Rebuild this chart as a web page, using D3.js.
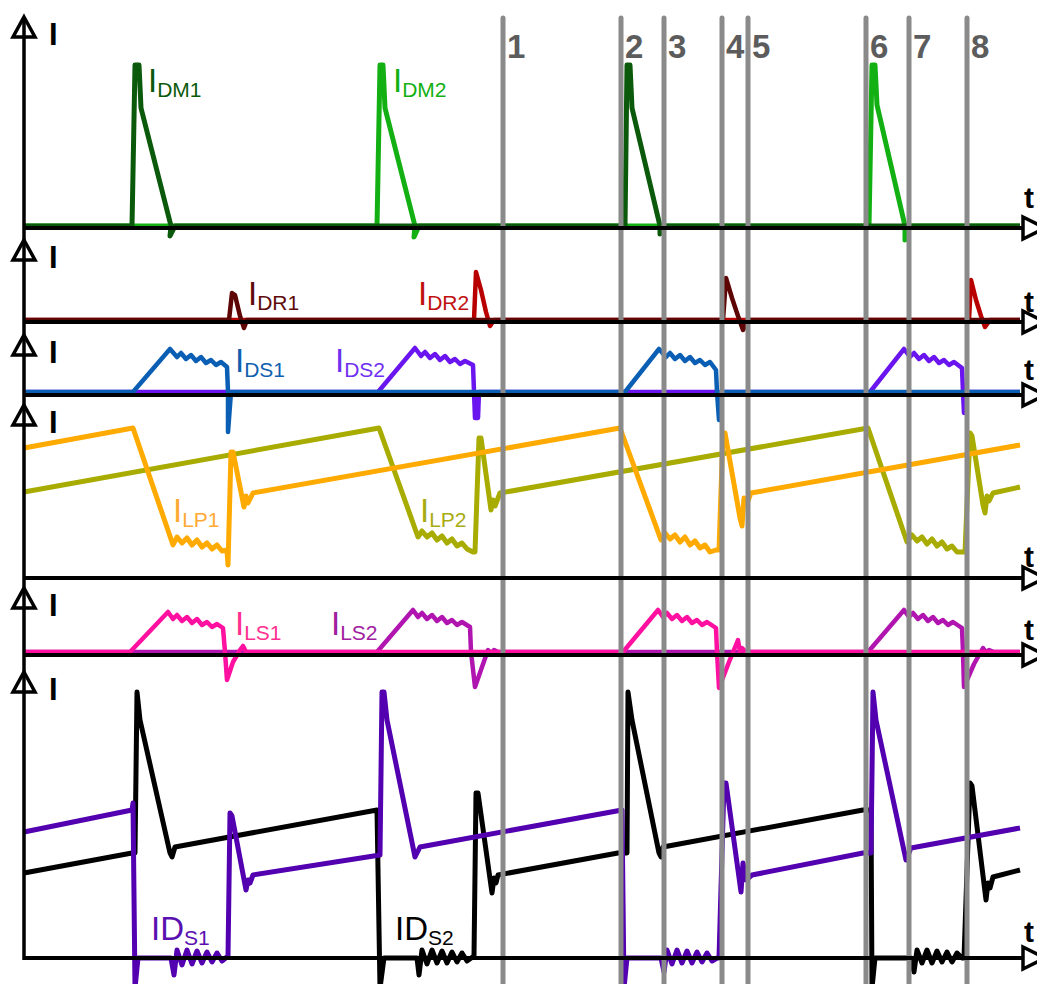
<!DOCTYPE html>
<html>
<head>
<meta charset="utf-8">
<script src="https://cdn.jsdelivr.net/npm/d3@7"></script>
<style>
  html, body { margin: 0; padding: 0; background: #fff; }
  svg { display: block; }
</style>
</head>
<body>
<div id="chart"></div>
<script>
// time in ns from the left axis, currents in arbitrary units (one per panel)
const timeDomain = [0, 996];
const eventTimes = [479, 597, 640, 698, 724, 842, 885, 943];
const eventLabels = ["1", "2", "3", "4", "5", "6", "7", "8"];

// panel 1 - main diodes
const iDM1 = [[0,0],[108,0],[111,161],[115,161],[117,118],[147,0],[146,-10],[151,0],[601,0],[603,161],[606,161],[608,118],[636,0],[636,-8],[640,0],[996,0]];
const iDM2 = [[0,0],[353,0],[356,161],[359,161],[361,118],[391,0],[390,-11],[395,0],[845,0],[848,161],[851,161],[853,121],[881,0],[881,-14],[885,0],[996,0]];

// panel 2 - reset diodes
const iDR1 = [[0,0],[205,0],[208,27],[211,25],[216,4],[220,-8],[223,0],[699,0],[702,42],[708,22],[714,4],[719,-10],[724,0],[996,0]];
const iDR2 = [[0,0],[450,0],[452,48],[457,30],[462,8],[466,-6],[470,0],[945,0],[947,40],[952,20],[957,4],[961,-7],[966,0],[996,0]];

// panel 3 - snubber diodes
const iDS1 = [[0,0],[109,0],[146,43],[153,35],[157,39],[162,33],[167,37],[172,31],[177,35],[182,29],[187,32],[192,27],[197,30],[203,25],[204,0],[204,-40],[207,0],[601,0],[635,43],[642,35],[646,39],[651,33],[656,37],[661,31],[666,35],[671,29],[676,32],[681,27],[686,30],[692,22],[693,0],[695,-28],[697,0],[996,0]];
const iDS2 = [[0,0],[354,0],[391,44],[397,36],[401,40],[406,34],[411,38],[416,32],[421,36],[426,30],[431,33],[436,28],[441,31],[449,27],[451,-26],[454,-26],[455,0],[846,0],[880,43],[886,35],[890,39],[895,33],[900,37],[905,31],[910,35],[915,29],[920,32],[925,27],[930,30],[938,24],[939,0],[940,-21],[942,0],[996,0]];

// panel 4 - primary inductors
const iLP1 = [[0,130],[109,150],[149,33],[153,41],[158,35],[163,40],[168,33],[173,38],[178,31],[183,35],[188,29],[193,33],[198,27],[203,28],[204,13],[207,126],[209,126],[220,71],[222,82],[224,75],[229,85],[596,150],[637,38],[641,45],[646,39],[651,43],[656,36],[661,41],[666,33],[671,37],[676,30],[681,33],[686,26],[692,28],[695,28],[699,145],[701,145],[716,60],[718,52],[720,80],[723,75],[727,85],[996,133]];
const iLP2 = [[0,86],[355,150],[394,41],[398,47],[403,41],[408,45],[413,38],[418,42],[423,35],[428,39],[433,32],[438,35],[443,29],[449,26],[451,26],[455,140],[457,140],[467,68],[469,78],[471,72],[476,85],[844,150],[883,36],[888,43],[893,37],[898,41],[903,34],[908,39],[913,32],[918,36],[923,29],[928,32],[933,26],[938,26],[941,26],[946,145],[948,142],[959,73],[961,65],[963,82],[965,77],[969,85],[996,91]];

// panel 5 - snubber inductors
const iLS1 = [[0,0],[106,0],[144,40],[149,33],[153,37],[158,31],[163,35],[168,29],[173,33],[178,27],[183,30],[188,25],[193,28],[199,24],[201,0],[203,-28],[209,-10],[216,2],[219,6],[222,0],[599,0],[634,42],[639,35],[643,39],[648,33],[653,37],[658,31],[663,35],[668,29],[673,32],[678,27],[683,30],[692,24],[693,0],[695,-36],[705,-10],[714,12],[716,0],[718,4],[722,0],[996,0]];
const iLS2 = [[0,0],[353,0],[389,42],[394,35],[398,39],[403,33],[408,37],[413,31],[418,35],[423,29],[428,32],[433,27],[438,30],[446,25],[447,0],[451,-35],[458,-15],[464,2],[467,-1],[470,2],[474,0],[844,0],[880,42],[885,35],[889,39],[894,33],[899,37],[904,31],[909,35],[914,29],[919,32],[924,27],[929,30],[938,24],[939,0],[940,-35],[950,-12],[959,4],[962,0],[965,2],[970,0],[996,0]];

// panel 6 - switches
const iDsS1 = [[0,126],[108,148],[109,155],[111,-30],[114,0],[147,0],[150,-17],[153,8],[158,-7],[163,8],[168,-6],[173,7],[178,-5],[183,6],[188,-4],[193,5],[198,-3],[204,2],[206,145],[208,142],[222,68],[224,78],[226,75],[229,83],[356,103],[358,266],[360,266],[363,238],[391,101],[396,111],[598,148],[600,-30],[603,0],[637,0],[640,-14],[643,8],[648,-6],[653,8],[658,-5],[663,7],[668,-5],[673,6],[678,-4],[683,5],[688,-3],[693,0],[695,0],[700,175],[702,175],[717,66],[719,95],[722,78],[728,83],[839,105],[847,105],[849,266],[852,238],[882,98],[887,110],[996,130]];
const iDsS2 = [[0,85],[108,105],[111,105],[113,266],[116,238],[146,105],[148,101],[151,111],[353,148],[356,-30],[360,0],[393,0],[395,-17],[398,8],[403,-6],[408,8],[413,-5],[418,7],[423,-5],[428,6],[433,-4],[438,5],[443,-3],[450,2],[452,165],[454,165],[468,65],[470,80],[472,75],[474,83],[594,105],[603,105],[604,266],[608,238],[635,105],[637,101],[639,111],[839,148],[847,148],[848,-30],[851,0],[887,0],[890,-14],[893,8],[898,-5],[903,8],[908,-5],[913,7],[918,-4],[923,6],[928,-4],[933,5],[938,0],[940,0],[946,175],[948,172],[962,58],[964,75],[966,70],[969,81],[996,88]];

// curve labels: [panel, time, value, main, subscript]
const curveLabels = [
  [0, 124, 134, "I", "DM1"],
  [0, 369, 134, "I", "DM2"],
  [1, 224, 15, "I", "DR1"],
  [1, 394, 15, "I", "DR2"],
  [2, 211, 20, "I", "DS1"],
  [2, 311, 20, "I", "DS2"],
  [3, 149, 56, "I", "LP1"],
  [3, 396, 56, "I", "LP2"],
  [4, 211, 17, "I", "LS1"],
  [4, 307, 17, "I", "LS2"],
  [5, 127, 18, "ID", "S1"],
  [5, 371, 18, "ID", "S2"]
];

const W = 1037, H = 984;
const font = "'Liberation Sans', Arial, sans-serif";

const panels = [
  { axisY: 228, zeroY: 226, topY: 17,  tY: 208 },
  { axisY: 322, zeroY: 320, topY: 240, tY: 312 },
  { axisY: 395, zeroY: 392, topY: 335, tY: 380 },
  { axisY: 578, zeroY: 578, topY: 405, tY: 567 },
  { axisY: 655, zeroY: 652, topY: 588, tY: 640 },
  { axisY: 958, zeroY: 958, topY: 672, tY: 942 }
];
panels.forEach(p => {
  p.y = d3.scaleLinear().domain([0, 100]).range([p.zeroY, p.zeroY - 100]);
});

const x = d3.scaleLinear().domain(timeDomain).range([24, 1020]);
const axisLeft = x(0), axisRight = 1023;

const series = [
  { data: iDM2, panel: 0, color: "#12b012", width: 5 },
  { data: iDM1, panel: 0, color: "#0b5a0b", width: 5 },
  { data: iDR2, panel: 1, color: "#b80000", width: 4.5 },
  { data: iDR1, panel: 1, color: "#5e0505", width: 4.5 },
  { data: iDS2, panel: 2, color: "#6a14f0", width: 4.5 },
  { data: iDS1, panel: 2, color: "#0a5fb4", width: 4.5 },
  { data: iLP2, panel: 3, color: "#a8ac00", width: 5 },
  { data: iLP1, panel: 3, color: "#ffaa00", width: 5 },
  { data: iLS2, panel: 4, color: "#b015b0", width: 4.5 },
  { data: iLS1, panel: 4, color: "#ff10a0", width: 4.5 },
  { data: iDsS2, panel: 5, color: "#000000", width: 5 },
  { data: iDsS1, panel: 5, color: "#5200b0", width: 5 }
];
const labelColors = ["#0b5a0b", "#12b012", "#5e0a0a", "#c01010", "#1060b0", "#7030f0",
                     "#ffaa33", "#a8ac10", "#ff3090", "#a020a0", "#5a10b0", "#000000"];

const svg = d3.select("#chart").append("svg")
  .attr("width", W)
  .attr("height", H)
  .style("background", "#fff");

// Waveforms
series.forEach(s => {
  const p = panels[s.panel];
  const line = d3.line().x(d => x(d[0])).y(d => p.y(d[1]));
  svg.append("path")
    .attr("d", line(s.data))
    .attr("fill", "none")
    .attr("stroke", s.color)
    .attr("stroke-width", s.width)
    .attr("stroke-linejoin", "round");
});

// Event markers
svg.selectAll(".event")
  .data(eventTimes)
  .join("line")
  .attr("x1", d => x(d)).attr("x2", d => x(d))
  .attr("y1", 18).attr("y2", H)
  .attr("stroke", "#8a8a8a")
  .attr("stroke-width", 5)
  .attr("stroke-linecap", "round");

// Axes
panels.forEach(p => {
  svg.append("line")
    .attr("x1", axisLeft).attr("x2", axisRight)
    .attr("y1", p.axisY).attr("y2", p.axisY)
    .attr("stroke", "#000").attr("stroke-width", 4);
  svg.append("path")
    .attr("d", `M${axisRight},${p.axisY - 11} L${axisRight + 22},${p.axisY} L${axisRight},${p.axisY + 11} Z`)
    .attr("fill", "#fff").attr("stroke", "#000").attr("stroke-width", 3.5)
    .attr("stroke-linejoin", "miter");
  svg.append("path")
    .attr("d", `M${axisLeft},${p.topY} L${axisLeft + 11},${p.topY + 20} L${axisLeft - 11},${p.topY + 20} Z`)
    .attr("fill", "#fff").attr("stroke", "#000").attr("stroke-width", 3.5)
    .attr("stroke-linejoin", "miter");
  svg.append("text")
    .attr("x", 49).attr("y", p.topY + 28)
    .attr("font-family", font).attr("font-weight", "bold").attr("font-size", 31)
    .text("I");
  svg.append("text")
    .attr("x", 1024).attr("y", p.tY)
    .attr("font-family", font).attr("font-weight", "bold").attr("font-size", 30)
    .text("t");
});
svg.append("line")
  .attr("x1", axisLeft).attr("x2", axisLeft)
  .attr("y1", panels[0].topY + 2).attr("y2", panels[5].axisY + 2)
  .attr("stroke", "#000").attr("stroke-width", 3.5);

// Event numbers
svg.selectAll(".num")
  .data(eventTimes)
  .join("text")
  .attr("x", d => x(d) + 4)
  .attr("y", 58)
  .attr("font-family", font).attr("font-weight", "bold").attr("font-size", 33)
  .attr("fill", "#5c5c5c")
  .text((d, i) => eventLabels[i]);

// Curve labels
curveLabels.forEach((l, i) => {
  const p = panels[l[0]];
  const t = svg.append("text")
    .attr("x", x(l[1])).attr("y", p.y(l[2]))
    .attr("font-family", font).attr("fill", labelColors[i]);
  t.append("tspan").attr("font-size", 33).text(l[3]);
  t.append("tspan").attr("font-size", 21).attr("dy", 5).text(l[4]);
});
</script>
</body>
</html>
